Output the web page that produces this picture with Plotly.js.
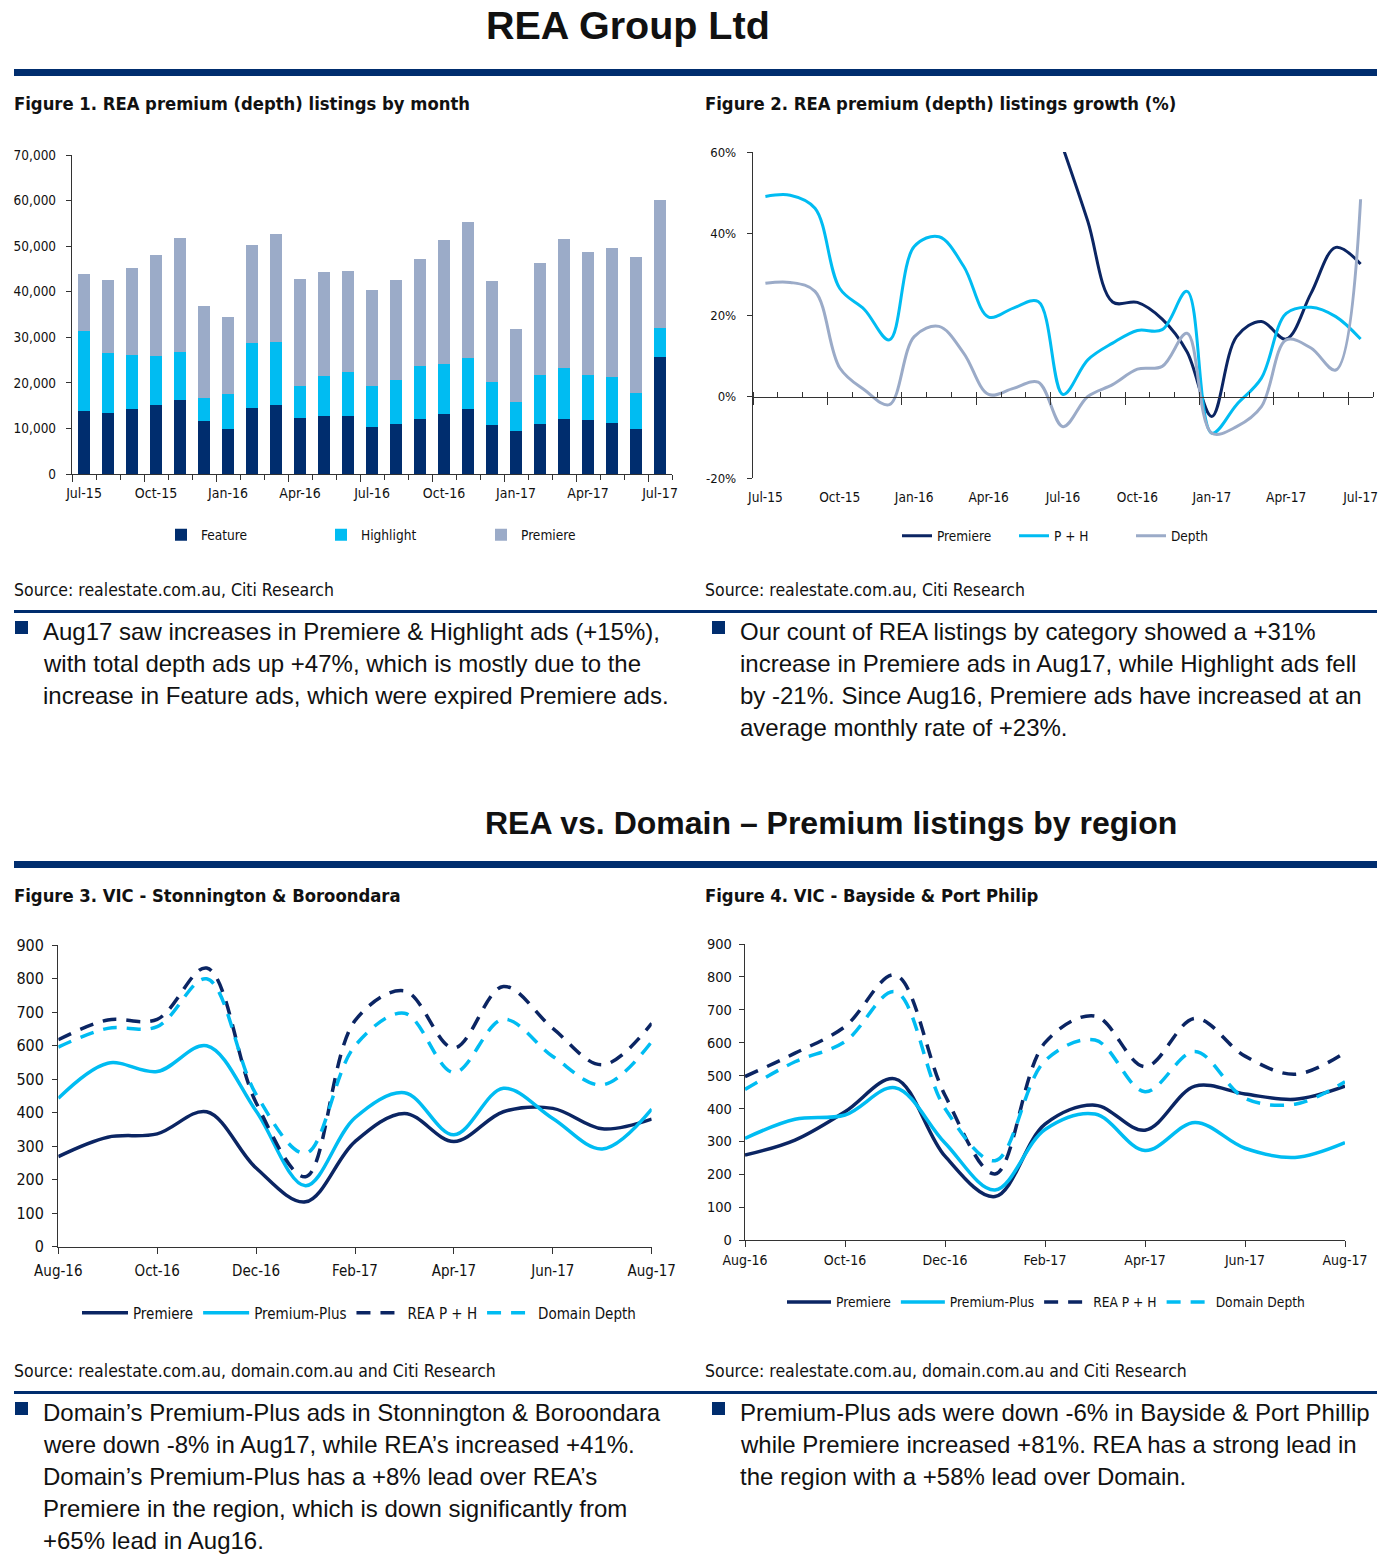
<!DOCTYPE html>
<html><head><meta charset="utf-8">
<script src="https://cdn.plot.ly/plotly-3.0.1.min.js"></script>
<style>html,body{margin:0;padding:0;background:#fff;overflow:hidden;width:1390px;height:1557px}#chart{display:block;width:1390px;height:1557px;overflow:hidden}</style>
</head><body><div id="chart"></div>
<script>
// ---------- DATA ----------
const months1 = ['Jul-15','Aug-15','Sep-15','Oct-15','Nov-15','Dec-15','Jan-16','Feb-16','Mar-16','Apr-16','May-16','Jun-16','Jul-16','Aug-16','Sep-16','Oct-16','Nov-16','Dec-16','Jan-17','Feb-17','Mar-17','Apr-17','May-17','Jun-17','Jul-17'];
const ticks1 = ['Jul-15','Oct-15','Jan-16','Apr-16','Jul-16','Oct-16','Jan-17','Apr-17','Jul-17'];
const featureAds   = [13840,13470,14350,15230,16320,11710, 9960,14570,15230,12370,12740,12740,10400,10910,12150,13250,14280,10830, 9520,10980,12150,11930,11270, 9960,25770];
const highlightAds = [17560,13180,11780,10760,10400, 5050, 7680,14270,13760, 6960, 8780, 9730, 9000, 9810,11570,10980,11270, 9450, 6370,10760,11200, 9890, 9960, 7830, 6370];
const premiereAds  = [12450,15880,19180,22110,24960,20140,16770,21380,23720,23570,22770,21970,21010,21810,23430,27160,29790,22030,15880,24530,28260,26790,28330,29870,27890];

const growthPremiere = [null,null,null,null,null,null,null,null,null,null,null,null,61,43,23.2,23.1,19.0,11.0,-4.9,14.7,18.4,14.1,25.3,36.6,32.5];
const growthPH       = [49.1,49.4,46.2,26.5,21.3,13.9,36.8,39.2,31.9,19.5,21.7,23.3,0.5,9.0,13.1,16.2,16.4,25.8,-9.0,-2.0,4.5,20.4,21.9,19.6,14.1];
const growthDepth    = [27.8,28.0,25.8,7.0,1.6,-2.0,14.7,17.2,10.6,0.5,2.0,3.5,-7.4,0.0,2.9,6.7,7.4,15.5,-9.0,-7.4,-2.5,13.9,11.9,6.5,48.4];
const growthTickVals = [-20,0,20,40,60];
const growthTickText = ['-20%','0%','20%','40%','60%'];

const months3 = ['Aug-16','Sep-16','Oct-16','Nov-16','Dec-16','Jan-17','Feb-17','Mar-17','Apr-17','May-17','Jun-17','Jul-17','Aug-17'];
const ticks3 = ['Aug-16','Oct-16','Dec-16','Feb-17','Apr-17','Jun-17','Aug-17'];
const stonPremiere = [269,327,337,403,235,134,314,398,314,403,413,352,381];
const stonPremPlus = [443,548,523,600,405,182,385,460,334,473,383,292,411];
const stonReaPH    = [618,677,679,832,430,209,675,764,593,777,652,543,667];
const stonDomain   = [596,652,657,800,455,279,600,697,520,679,568,483,612];

const baysPremiere = [258,304,390,490,255,132,352,410,334,468,444,428,468];
const baysPremPlus = [309,367,380,463,295,152,336,383,272,357,279,251,296];
const baysReaPH    = [497,568,649,806,440,201,600,681,527,674,559,504,570];
const baysDomain   = [458,542,603,755,400,241,545,608,451,573,431,413,481];

// ---------- STYLE ----------
const W = 1390, H = 1557;
const X = p => p / W;
const Y = p => 1 - p / H;
const NAVY = '#002D6E', NAVYL = '#0B2563', CYAN = '#00BCF2', GREY = '#9BABC8';
const NARROW = "'Liberation Sans Narrow','Arial Narrow','DejaVu Sans Condensed',sans-serif";
const SANS = "'Liberation Sans',Arial,sans-serif";
const TXT = '#111111';
const AX = '#333333';

const traces = [];
// Figure 1
traces.push({type:'bar', name:'Feature', x:months1, y:featureAds, marker:{color:NAVY}, xaxis:'x', yaxis:'y', legend:'legend'});
traces.push({type:'bar', name:'Highlight', x:months1, y:highlightAds, marker:{color:CYAN}, xaxis:'x', yaxis:'y', legend:'legend'});
traces.push({type:'bar', name:'Premiere', x:months1, y:premiereAds, marker:{color:GREY}, xaxis:'x', yaxis:'y', legend:'legend'});
traces.push({type:'scatter', x:[], y:[], xaxis:'x5', yaxis:'y', showlegend:false, hoverinfo:'skip'});
// Figure 2
const sp = {shape:'spline', smoothing:1, width:3};
traces.push({type:'scatter', mode:'lines', name:'Premiere', x:months1, y:growthPremiere, line:Object.assign({color:NAVYL}, sp), xaxis:'x2', yaxis:'y2', legend:'legend2'});
traces.push({type:'scatter', mode:'lines', name:'P + H', x:months1, y:growthPH, line:Object.assign({color:CYAN}, sp), xaxis:'x2', yaxis:'y2', legend:'legend2'});
traces.push({type:'scatter', mode:'lines', name:'Depth', x:months1, y:growthDepth, line:Object.assign({color:GREY}, sp), xaxis:'x2', yaxis:'y2', legend:'legend2'});
traces.push({type:'scatter', x:[], y:[], xaxis:'x6', yaxis:'y2', showlegend:false, hoverinfo:'skip'});
// Figures 3 & 4
function region(xa, ya, lg, prem, pp, rea, dom) {
  const s = {shape:'spline', smoothing:1, width:3.5};
  traces.push({type:'scatter', mode:'lines', name:'Premiere', x:months3, y:prem, line:Object.assign({color:NAVYL}, s), xaxis:xa, yaxis:ya, legend:lg});
  traces.push({type:'scatter', mode:'lines', name:'Premium-Plus', x:months3, y:pp, line:Object.assign({color:CYAN}, s), xaxis:xa, yaxis:ya, legend:lg});
  traces.push({type:'scatter', mode:'lines', name:'REA P + H', x:months3, y:rea, line:Object.assign({color:NAVYL, dash:'14px,10px'}, s), xaxis:xa, yaxis:ya, legend:lg});
  traces.push({type:'scatter', mode:'lines', name:'Domain Depth', x:months3, y:dom, line:Object.assign({color:CYAN, dash:'14px,10px'}, s), xaxis:xa, yaxis:ya, legend:lg});
}
region('x3','y3','legend3', stonPremiere, stonPremPlus, stonReaPH, stonDomain);
region('x4','y4','legend4', baysPremiere, baysPremPlus, baysReaPH, baysDomain);

// ---------- AXES ----------
const y1d = [Y(474), Y(155)];
const y2d = [Y(478), Y(152)];
const zeroPos = y2d[0] + (20/80) * (y2d[1] - y2d[0]);

const catX = (dom, anchor, tv, size, standoff) => ({domain:dom, anchor:anchor, type:'category', range:[-0.5, 24.5], tickvals:tv, ticktext:tv, ticks:'', showline:false, showgrid:false, zeroline:false, ticklabelstandoff:standoff, tickfont:{family:NARROW, size:size, color:TXT}, fixedrange:true});
const tickX = (over, anchor, pos, minorDir) => {
  const o = {overlaying:over, anchor:anchor, type:'linear', range:[-0.5, 24.5], tick0:-0.5, dtick:3, ticks:'outside', ticklen:7, tickwidth:1, tickcolor:AX, showline:true, linecolor:AX, linewidth:1.2, showticklabels:false, showgrid:false, zeroline:false,
    minor:{dtick:1, tick0:-0.5, ticks:minorDir, ticklen:5, tickwidth:1, tickcolor:AX, showgrid:false}, fixedrange:true};
  if (pos !== undefined) o.position = pos;
  return o;
};
const valY = (dom, anchor, range, dtick, extra, size, standoff) => Object.assign({domain:dom, anchor:anchor, range:range, dtick:dtick, ticks:'outside', ticklen:5, tickwidth:1, tickcolor:AX, showline:true, linecolor:AX, linewidth:1.2, showgrid:false, zeroline:false, ticklabelstandoff:standoff, tickfont:{family:NARROW, size:size, color:TXT}, fixedrange:true}, extra);
const regX = (dom, anchor, size, standoff) => ({domain:dom, anchor:anchor, type:'category', range:[0, 12], tickvals:ticks3, ticktext:ticks3, ticks:'outside', ticklen:6, tickwidth:1, tickcolor:AX, showline:true, linecolor:AX, linewidth:1.2, showgrid:false, zeroline:false, ticklabelstandoff:standoff, tickfont:{family:NARROW, size:size, color:TXT}, fixedrange:true});

// ---------- TEXT ----------
const ann = [];
const txt = (x, y, text, size, family, anchor, bold) => ann.push({xref:'paper', yref:'paper', x:X(anchor === 'center' ? x : x - 2), y:Y(y), xanchor:anchor||'left', yanchor:'middle', showarrow:false, text: bold ? '<b>'+text+'</b>' : text, font:{family:family, size:size, color:TXT}, align:'left'});

const FIGT = 18.3, SRC = 17.5, BODY = 24;
txt(628, 25, 'REA Group Ltd', 39.5, SANS, 'center', true);
txt(14, 103, 'Figure 1. REA premium (depth) listings by month', FIGT, NARROW, 'left', true);
txt(705, 103, 'Figure 2. REA premium (depth) listings growth (%)', FIGT, NARROW, 'left', true);
txt(14, 590, 'Source: realestate.com.au, Citi Research', SRC, NARROW);
txt(705, 590, 'Source: realestate.com.au, Citi Research', SRC, NARROW);

const bulletsTL = ['Aug17 saw increases in Premiere &amp; Highlight ads (+15%),', 'with total depth ads up +47%, which is mostly due to the', 'increase in Feature ads, which were expired Premiere ads.'];
const bulletsTR = ['Our count of REA listings by category showed a +31%', 'increase in Premiere ads in Aug17, while Highlight ads fell', 'by -21%. Since Aug16, Premiere ads have increased at an', 'average monthly rate of +23%.'];
const bulletsBL = ['Domain’s Premium-Plus ads in Stonnington &amp; Boroondara', 'were down -8% in Aug17, while REA’s increased +41%.', 'Domain’s Premium-Plus has a +8% lead over REA’s', 'Premiere in the region, which is down significantly from', '+65% lead in Aug16.'];
const bulletsBR = ['Premium-Plus ads were down -6% in Bayside &amp; Port Phillip', 'while Premiere increased +81%. REA has a strong lead in', 'the region with a +58% lead over Domain.'];
const shapes = [];
function bullet(x, y0, lines) {
  lines.forEach((l, i) => txt(x, y0 + 1 + 32*i, l, BODY, SANS));
  shapes.push({type:'rect', xref:'paper', yref:'paper', x0:X(x-28), x1:X(x-15), y0:Y(y0+4), y1:Y(y0-9), fillcolor:NAVY, line:{width:0}});
}
bullet(43, 630, bulletsTL);
bullet(740, 630, bulletsTR);
txt(831, 823, 'REA vs. Domain – Premium listings by region', 32, SANS, 'center', true);
txt(14, 896, 'Figure 3. VIC - Stonnington &amp; Boroondara', FIGT, NARROW, 'left', true);
txt(705, 896, 'Figure 4. VIC - Bayside &amp; Port Philip', FIGT, NARROW, 'left', true);
txt(14, 1371, 'Source: realestate.com.au, domain.com.au and Citi Research', SRC, NARROW);
txt(705, 1371, 'Source: realestate.com.au, domain.com.au and Citi Research', SRC, NARROW);
bullet(43, 1411, bulletsBL);
bullet(740, 1411, bulletsBR);

const rule = (y, t) => shapes.push({type:'rect', xref:'paper', yref:'paper', x0:X(14), x1:X(1377), y0:Y(y + t/2), y1:Y(y - t/2), fillcolor:NAVY, line:{width:0}});
rule(72.5, 7); rule(611.5, 3); rule(864.5, 7); rule(1392.5, 3);

const layout = {
  width:W, height:H, margin:{l:0, r:0, t:0, b:0}, paper_bgcolor:'#fff', plot_bgcolor:'rgba(0,0,0,0)',
  barmode:'stack', bargap:0.5, showlegend:true, hovermode:false,
  xaxis: catX([X(72), X(672)], 'y', ticks1, 14, 9),
  yaxis: valY(y1d, 'x', [0, 70000], 10000, {tickformat:',d'}, 13.5, 7),
  xaxis5: tickX('x', 'y', undefined, 'outside'),
  xaxis2: catX([X(753), X(1373)], 'y2', ticks1, 13.6, 9),
  yaxis2: valY(y2d, 'x2', [-20, 60], 20, {tickvals:growthTickVals, ticktext:growthTickText}, 13, 8),
  xaxis6: tickX('x2', 'free', zeroPos, 'inside'),
  xaxis3: regX([X(58.3), X(651.7)], 'y3', 15, 4),
  yaxis3: valY([Y(1246.7), Y(945.3)], 'x3', [0, 900], 100, {}, 16, 5),
  xaxis4: regX([X(745), X(1345)], 'y4', 14, 1),
  yaxis4: valY([Y(1240), Y(944)], 'x4', [0, 900], 100, {}, 14.5, 4),
  legend:  {orientation:'h', x:X(161), y:Y(535), xanchor:'left', yanchor:'middle', entrywidth:115, entrywidthmode:'pixels', font:{family:NARROW, size:13.6, color:TXT}, traceorder:'normal', bgcolor:'rgba(0,0,0,0)'},
  legend2: {orientation:'h', x:X(897), y:Y(536), xanchor:'left', yanchor:'middle', entrywidth:72, entrywidthmode:'pixels', font:{family:NARROW, size:13.5, color:TXT}, traceorder:'normal', bgcolor:'rgba(0,0,0,0)'},
  legend3: {orientation:'h', x:X(359), y:Y(1313), xanchor:'center', yanchor:'middle', itemwidth:46, font:{family:NARROW, size:15, color:TXT}, traceorder:'normal', bgcolor:'rgba(0,0,0,0)'},
  legend4: {orientation:'h', x:X(1046), y:Y(1302), xanchor:'center', yanchor:'middle', itemwidth:44, font:{family:NARROW, size:13.7, color:TXT}, traceorder:'normal', bgcolor:'rgba(0,0,0,0)'},
  annotations: ann, shapes: shapes
};
Plotly.newPlot('chart', traces, layout, {displayModeBar:false, staticPlot:true});
</script></body></html>
